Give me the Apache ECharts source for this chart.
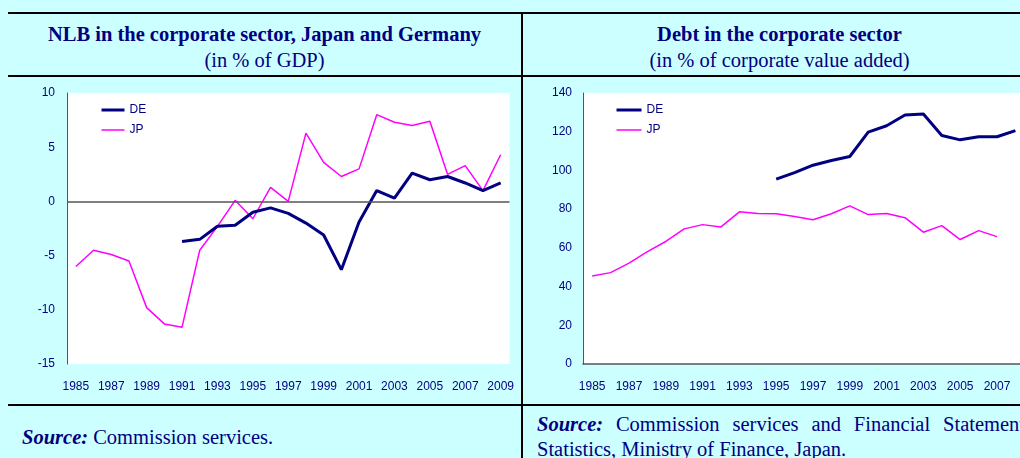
<!DOCTYPE html>
<html>
<head>
<meta charset="utf-8">
<script src="https://cdn.jsdelivr.net/npm/echarts@6/dist/echarts.min.js"></script>
<style>
  html, body { margin: 0; padding: 0; }
  body { width: 1020px; height: 458px; overflow: hidden; position: relative; background: #ccffff; }
  .rule { position: absolute; background: #000; }
  .head { position: absolute; top: 14px; height: 61px; text-align: center; color: #000080; font-family: "Liberation Serif", serif; font-size: 20.5px; line-height: 26px; padding-top: 7px; box-sizing: border-box; white-space: nowrap; }
  .head b { display: block; }
  .foot { position: absolute; color: #000080; font-family: "Liberation Serif", serif; font-size: 20.5px; line-height: 25px; }
  .foot i { font-weight: bold; }
  .chart { position: absolute; top: 78px; height: 326px; }
</style>
</head>
<body>
<div class="rule" style="left:8px;top:12px;width:1030px;height:2px"></div>
<div class="rule" style="left:8px;top:75px;width:1030px;height:2px"></div>
<div class="rule" style="left:8px;top:404px;width:1030px;height:2px"></div>
<div class="rule" style="left:521px;top:12px;width:2px;height:460px"></div>

<div class="head" style="left:8px;width:513px"><b>NLB in the corporate sector, Japan and Germany</b>(in % of GDP)</div>
<div class="head" style="left:523px;width:513px"><b>Debt in the corporate sector</b>(in % of corporate value added)</div>

<div id="left-chart" class="chart" style="left:0;width:521px"></div>
<div id="right-chart" class="chart" style="left:523px;width:540px"></div>

<div class="foot" style="left:22px;top:425px"><i>Source:</i> Commission services.</div>
<div class="foot" style="left:537px;top:412px;width:496px;text-align:justify;text-align-last:left"><i>Source:</i> Commission services and Financial Statements Statistics, Ministry of Finance, Japan.</div>

<script>
// years on both charts
const years = ['1985', '1986', '1987', '1988', '1989', '1990', '1991', '1992', '1993', '1994',
    '1995', '1996', '1997', '1998', '1999', '2000', '2001', '2002', '2003', '2004',
    '2005', '2006', '2007', '2008', '2009'];

// NLB, % of GDP
const nlbDE = [null, null, null, null, null, null, -3.7, -3.5, -2.3, -2.2,
    -1.0, -0.6, -1.1, -2.0, -3.1, -6.3, -1.9, 1.0, 0.3, 2.6,
    2.0, 2.3, 1.7, 1.0, 1.7];
const nlbJP = [-6.0, -4.5, -4.9, -5.5, -9.8, -11.3, -11.6, -4.5, -2.3, 0.1,
    -1.6, 1.3, 0.0, 6.3, 3.6, 2.3, 3.0, 8.0, 7.3, 7.0,
    7.4, 2.5, 3.3, 1.0, 4.3];

// debt, % of corporate value added
const debtDE = [null, null, null, null, null, null, null, null, null, null,
    95.5, 98.9, 102.7, 105.1, 107.2, 119.8, 123.1, 128.6, 129.1, 118.0,
    115.8, 117.4, 117.4, 120.6, null];
const debtJP = [45.5, 47.2, 52.1, 58.1, 63.3, 69.8, 72.0, 70.8, 78.6, 77.7,
    77.6, 76.2, 74.5, 77.6, 81.7, 77.2, 77.7, 75.6, 68.1, 71.5,
    64.3, 68.9, 65.8, null, null];

const NAVY = '#000080';
const PINK = '#ff00ff';
const FONT = 'Liberation Sans, Arial, sans-serif';

function baseOption(gridLeft, gridWidth, legendLeft, legendWidth) {
    return {
        animation: false,
        grid: {
            left: gridLeft, top: 15, width: gridWidth, height: 271,
            show: true, backgroundColor: '#ffffff', borderWidth: 0
        },
        legend: {
            left: legendLeft, top: 21, orient: 'vertical',
            itemWidth: legendWidth, itemHeight: 14, itemGap: 8,
            // only the line sample, no marker
            itemStyle: { opacity: 0, color: 'transparent', borderWidth: 0 },
            textStyle: { color: NAVY, fontSize: 12, fontFamily: FONT },
            data: [
                { name: 'DE', lineStyle: { width: 3 } },
                { name: 'JP', lineStyle: { width: 1.5 } }
            ]
        },
        xAxis: {
            type: 'category',
            data: years,
            boundaryGap: true,
            axisTick: { show: false },
            axisLabel: { interval: 1, color: NAVY, fontSize: 12, fontFamily: FONT, margin: 17 }
        }
    };
}

const leftChart = echarts.init(document.getElementById('left-chart'), null, { renderer: 'canvas' });
const leftOpt = baseOption(67, 442.5, 95, 23);
leftOpt.xAxis.axisLine = { show: false };
leftOpt.yAxis = {
    type: 'value', min: -15, max: 10, interval: 5,
    splitLine: { show: false },
    axisLine: { show: true, onZero: false, lineStyle: { color: '#555', width: 1 } },
    axisTick: { show: false },
    axisLabel: { color: NAVY, fontSize: 12, fontFamily: FONT, margin: 12 }
};
leftOpt.series = [
    {
        name: 'DE', type: 'line', data: nlbDE, symbol: 'none',
        lineStyle: { color: NAVY, width: 3 }, itemStyle: { color: NAVY }, z: 3,
        markLine: {
            silent: true, symbol: 'none', label: { show: false },
            lineStyle: { color: '#555', width: 1.5, type: 'solid' },
            data: [{ yAxis: 0 }]
        }
    },
    {
        name: 'JP', type: 'line', data: nlbJP, symbol: 'none',
        lineStyle: { color: PINK, width: 1.5 }, itemStyle: { color: PINK }, z: 2
    }
];
leftChart.setOption(leftOpt);

const rightChart = echarts.init(document.getElementById('right-chart'), null, { renderer: 'canvas' });
const rightOpt = baseOption(60, 460, 87, 25);
rightOpt.xAxis.axisLine = { show: true, lineStyle: { color: '#555', width: 1.5 } };
rightOpt.yAxis = {
    type: 'value', min: 0, max: 140, interval: 20,
    splitLine: { show: false },
    axisLine: { show: true, lineStyle: { color: '#555', width: 1 } },
    axisTick: { show: false },
    axisLabel: { color: NAVY, fontSize: 12, fontFamily: FONT, margin: 11 }
};
rightOpt.series = [
    {
        name: 'DE', type: 'line', data: debtDE, symbol: 'none',
        lineStyle: { color: NAVY, width: 3 }, itemStyle: { color: NAVY }, z: 3
    },
    {
        name: 'JP', type: 'line', data: debtJP, symbol: 'none',
        lineStyle: { color: PINK, width: 1.5 }, itemStyle: { color: PINK }, z: 2
    }
];
rightChart.setOption(rightOpt);
</script>
</body>
</html>
